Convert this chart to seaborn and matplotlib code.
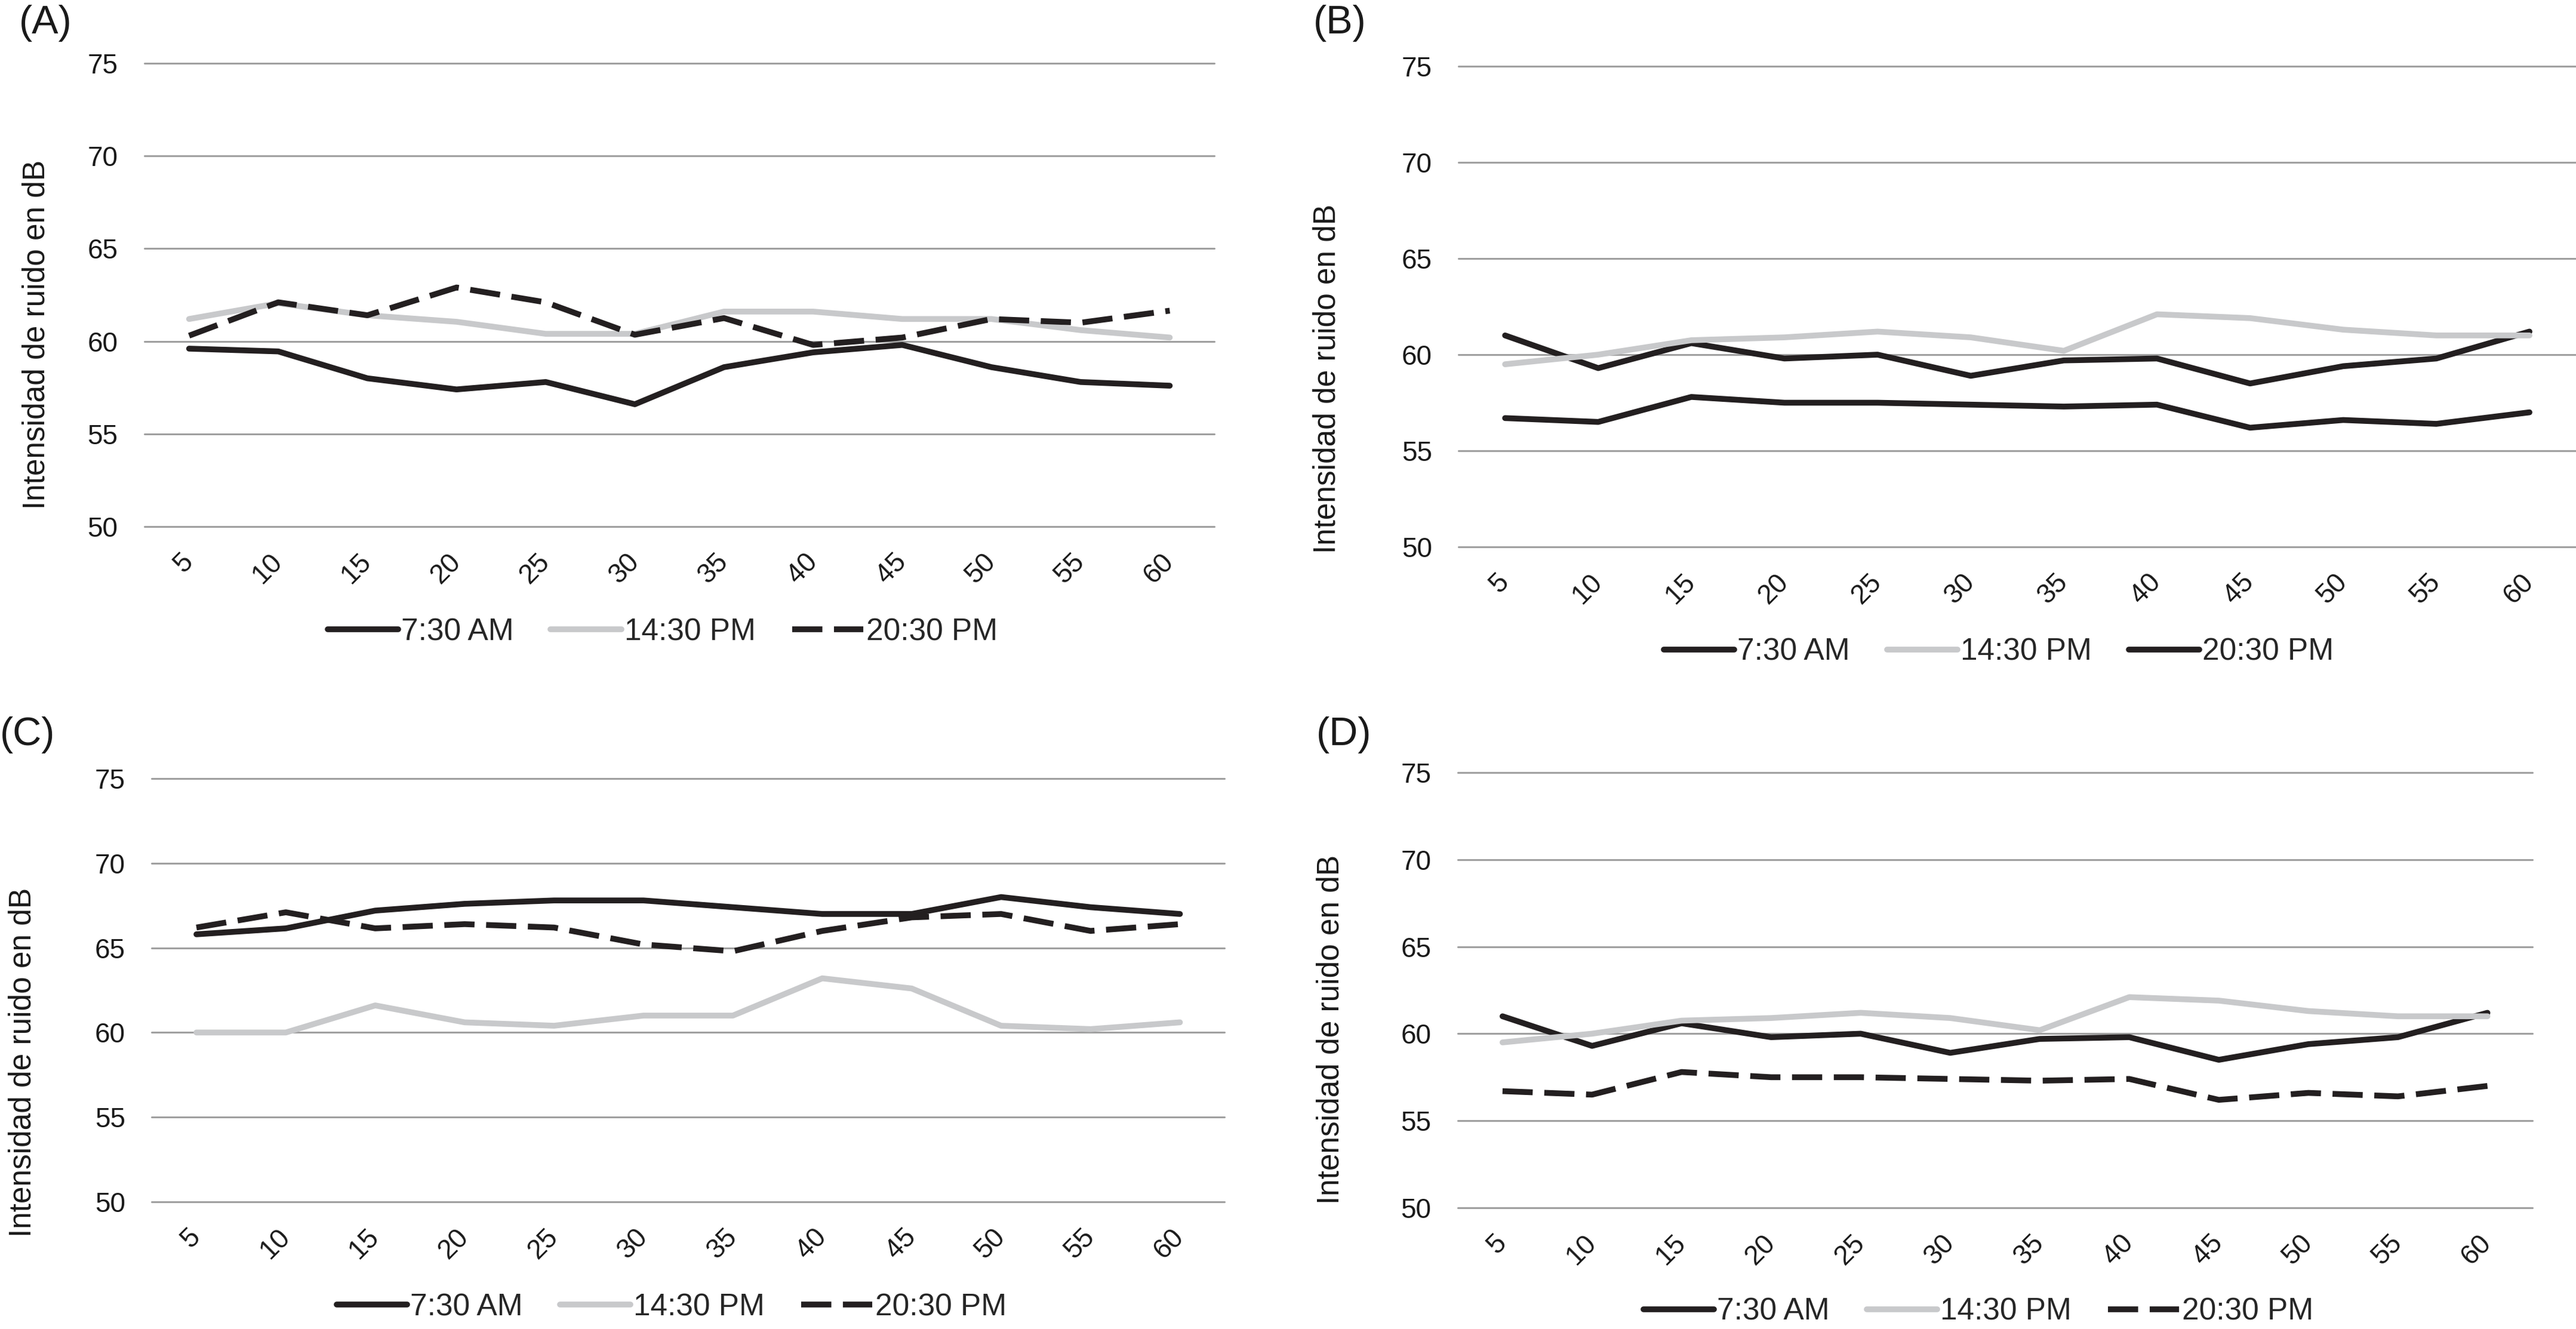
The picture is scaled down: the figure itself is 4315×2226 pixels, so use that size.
import matplotlib
matplotlib.use("Agg")
import matplotlib.pyplot as plt
import pandas as pd
import seaborn as sns

# minutos de medicion
minutes = [5, 10, 15, 20, 25, 30, 35, 40, 45, 50, 55, 60]
series_labels = ["7:30 AM", "14:30 PM", "20:30 PM"]

# (A)
a_morning = [59.6, 59.45, 58.0, 57.4, 57.8, 56.6, 58.6, 59.4, 59.8, 58.6, 57.8, 57.6]
a_afternoon = [61.2, 62.05, 61.4, 61.05, 60.4, 60.4, 61.6, 61.6, 61.2, 61.2, 60.6, 60.2]
a_night = [60.3, 62.1, 61.4, 62.9, 62.1, 60.35, 61.25, 59.8, 60.2, 61.2, 61.0, 61.65]

# (B)
b_morning = [61.0, 59.3, 60.6, 59.8, 60.0, 58.9, 59.7, 59.8, 58.5, 59.4, 59.8, 61.2]
b_afternoon = [59.5, 60.0, 60.75, 60.9, 61.2, 60.9, 60.2, 62.1, 61.9, 61.3, 61.0, 61.0]
b_night = [56.7, 56.5, 57.8, 57.5, 57.5, 57.4, 57.3, 57.4, 56.2, 56.6, 56.4, 57.0]

# (C)
c_morning = [65.8, 66.15, 67.2, 67.6, 67.8, 67.8, 67.4, 67.0, 67.0, 68.0, 67.4, 67.0]
c_afternoon = [60.0, 60.0, 61.6, 60.6, 60.4, 61.0, 61.0, 63.2, 62.6, 60.4, 60.2, 60.6]
c_night = [66.2, 67.1, 66.15, 66.4, 66.2, 65.2, 64.8, 66.0, 66.8, 67.0, 66.0, 66.4]

# (D)
d_morning = [61.0, 59.3, 60.6, 59.8, 60.0, 58.9, 59.7, 59.8, 58.5, 59.4, 59.8, 61.2]
d_afternoon = [59.5, 60.0, 60.75, 60.9, 61.2, 60.9, 60.2, 62.1, 61.9, 61.3, 61.0, 61.0]
d_night = [56.7, 56.5, 57.8, 57.5, 57.5, 57.4, 57.3, 57.4, 56.2, 56.6, 56.4, 57.0]

BLACK = "#231f20"
GRAY = "#c8c9cb"
GRID = "#a0a0a0"
LW = 7.0
DASH = (0, (5.2, 2.0))

sns.set_style("white")
plt.rcParams["font.family"] = ["Liberation Sans", "DejaVu Sans"]

fig = plt.figure(figsize=(43.15, 22.26), dpi=100)

# panel: name, series, night dashed?, axes rect, legend centre, ylabel coords, tag position (px)
panels = [
    ("(A)", (a_morning, a_afternoon, a_night), True,
     [0.0561, 0.6038, 0.4153, 0.3486], (0.2572, 0.5243), (-0.0876, 0.415), (32, 8)),
    ("(B)", (b_morning, b_afternoon, b_night), False,
     [0.5662, 0.5885, 0.4338, 0.3616], (0.7759, 0.5094), (-0.1047, 0.35), (2200, 8)),
    ("(C)", (c_morning, c_afternoon, c_night), True,
     [0.0589, 0.0957, 0.4165, 0.3185], (0.2607, 0.0162), (-0.1068, 0.33), (0, 1200)),
    ("(D)", (d_morning, d_afternoon, d_night), True,
     [0.5659, 0.0912, 0.4171, 0.3275], (0.7680, 0.0130), (-0.1044, 0.41), (2205, 1200)),
]

xpos = list(range(len(minutes)))

for name, series, night_dashed, rect, leg_c, ylab_c, tag_xy in panels:
    ax = fig.add_axes(rect)
    df = pd.DataFrame({"x": xpos, "m": series[0], "a": series[1], "n": series[2]})

    sns.lineplot(data=df, x="x", y="m", ax=ax, color=BLACK, lw=LW,
                 label=series_labels[0], errorbar=None, solid_capstyle="round")
    sns.lineplot(data=df, x="x", y="a", ax=ax, color=GRAY, lw=LW,
                 label=series_labels[1], errorbar=None, solid_capstyle="round")
    if night_dashed:
        sns.lineplot(data=df, x="x", y="n", ax=ax, color=BLACK, lw=LW,
                     label=series_labels[2], errorbar=None, linestyle=DASH)
    else:
        sns.lineplot(data=df, x="x", y="n", ax=ax, color=BLACK, lw=LW,
                     label=series_labels[2], errorbar=None, solid_capstyle="round")

    ax.set_xlim(-0.5, len(minutes) - 0.5)
    ax.set_ylim(50, 75)
    ax.set_yticks([50, 55, 60, 65, 70, 75])
    ax.set_xticks(xpos)
    ax.set_xticklabels([str(m) for m in minutes], rotation=45, ha="right",
                       va="center", rotation_mode="anchor")
    ax.tick_params(axis="y", length=0, pad=32, labelsize=33, labelcolor="#1a1a1a")
    ax.tick_params(axis="x", length=0, pad=38, labelsize=33, labelcolor="#1a1a1a")
    ax.set_xlabel("")
    ax.set_ylabel("Intensidad de ruido en dB", fontsize=37, color="#1a1a1a")
    ax.yaxis.set_label_coords(*ylab_c)

    ax.yaxis.grid(True, color=GRID, lw=2.2)
    ax.xaxis.grid(False)
    ax.set_axisbelow(True)
    for gl in ax.get_ygridlines():
        gl.set_clip_on(False)
    for sp in ax.spines.values():
        sp.set_visible(False)

    handles, labels = ax.get_legend_handles_labels()
    ax.legend(handles, labels, loc="center", bbox_to_anchor=leg_c,
              bbox_transform=fig.transFigure, ncol=3, frameon=False,
              fontsize=37, handlelength=2.3, handletextpad=0.1,
              columnspacing=1.2, borderaxespad=0)

    fig.text(tag_xy[0] / 4315, 1 - tag_xy[1] / 2226, name, fontsize=48,
             ha="left", va="top", color="#1a1a1a")

fig.savefig("out.png", dpi=100)
